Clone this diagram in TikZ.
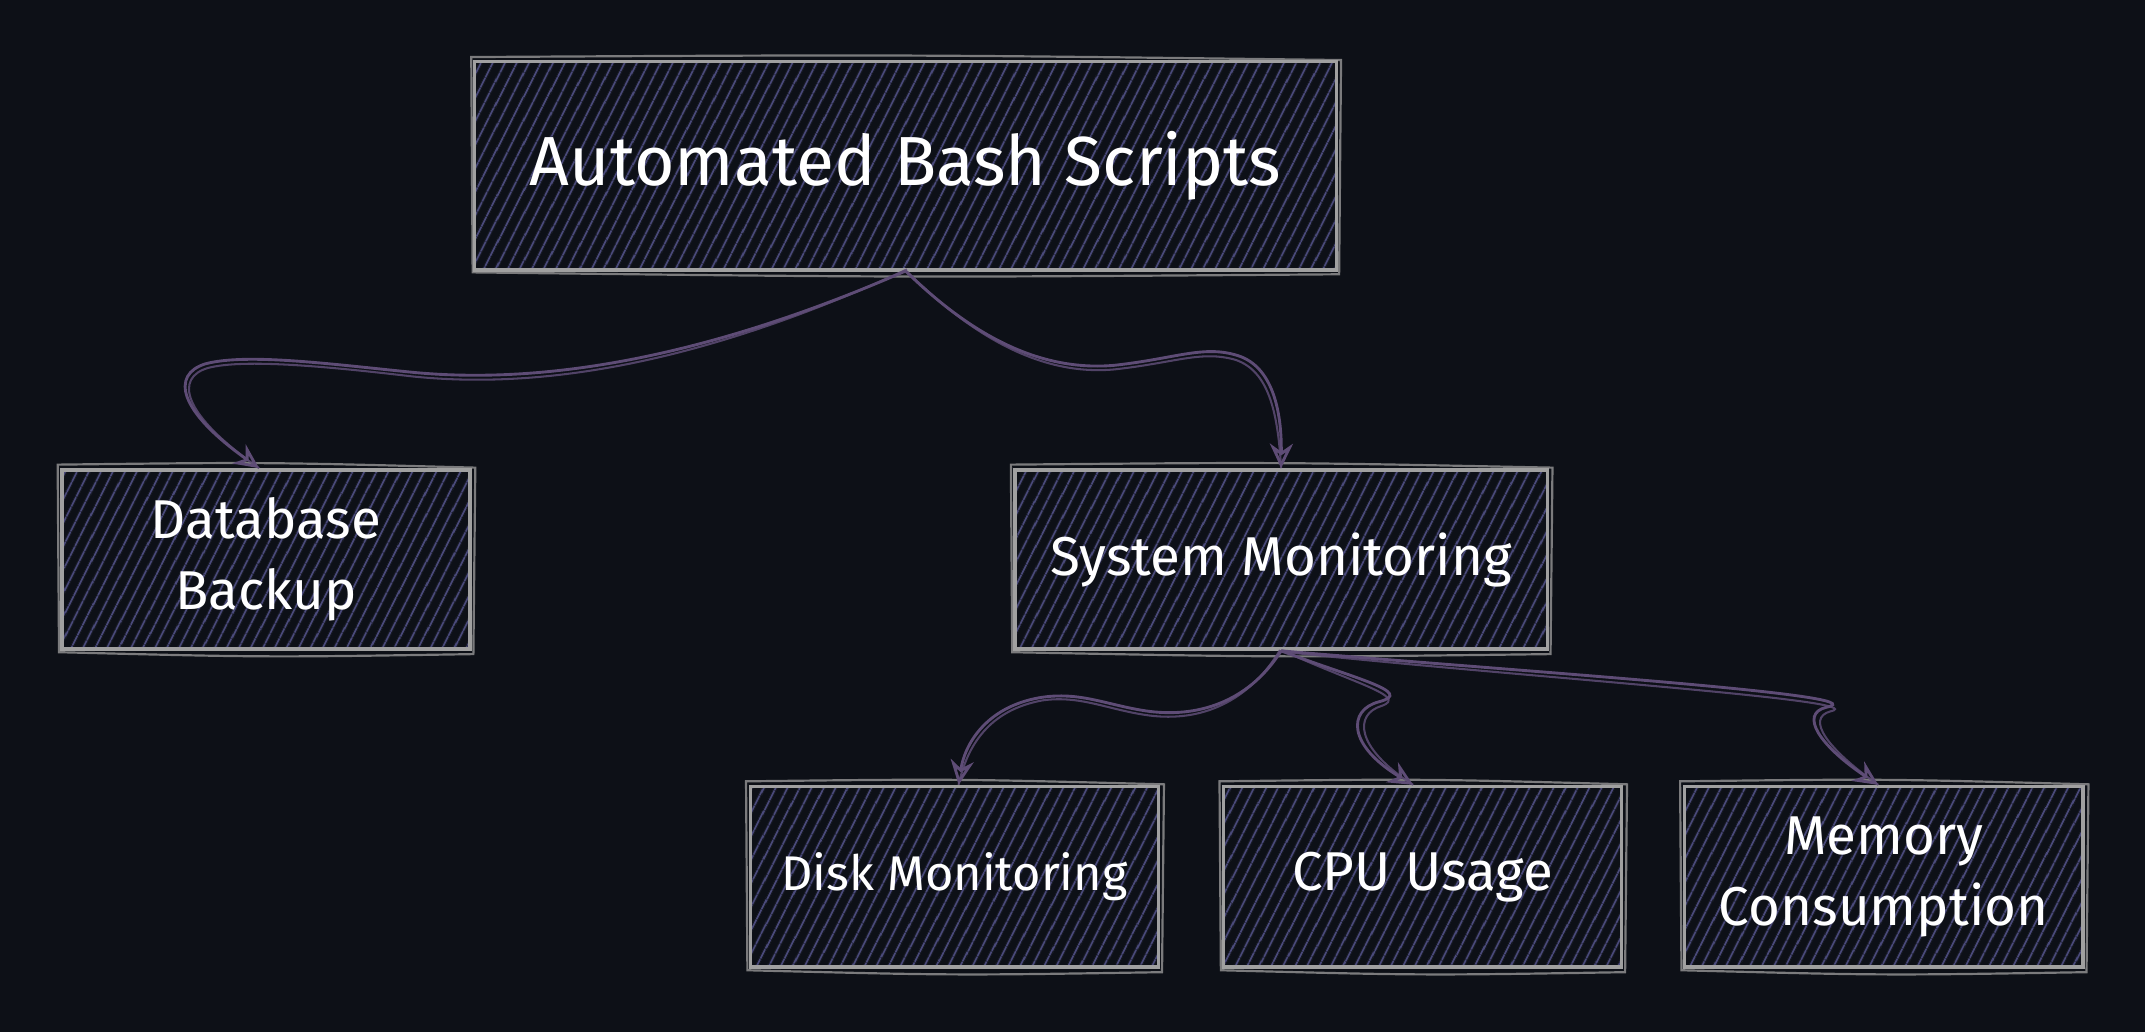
\documentclass[tikz,border=0pt]{standalone}
\usepackage{fontspec}
\setmainfont{Fira Sans}
\usetikzlibrary{arrows.meta,patterns.meta}
\definecolor{bg}{RGB}{13,16,23}
\definecolor{hatch}{RGB}{74,74,122}
\definecolor{edge}{RGB}{160,160,160}
\definecolor{arrc}{RGB}{94,76,118}
\begin{document}
\begin{tikzpicture}[x=0.5pt,y=-0.5pt,
  box/.style={draw=edge, line width=1.25pt,
    pattern={Lines[angle=63,distance=4pt,line width=0.7pt]}, pattern color=hatch,
    text=white, inner sep=0pt, align=center, minimum height=65.5pt,
    font=\fontsize{20pt}{26pt}\selectfont},
  edgetwo/.style={draw=edge, line width=0.8pt, opacity=0.75},
  link/.style={draw=arrc, line width=1.05pt,
    -{Stealth[open, length=9pt, width=8.5pt, inset=3pt]}},
  linktwo/.style={draw=arrc, line width=0.75pt, opacity=0.85}
]
\fill[bg] (0,0) rectangle (1568,754.4);
\useasboundingbox (0,0) rectangle (1568,754.4);

\node[box, minimum width=315pt, minimum height=76.2pt,
      font=\fontsize{25.4pt}{30pt}\selectfont] (top) at (662,121.2) {Automated Bash Scripts};
\node[box, minimum width=149.2pt] (db) at (194.4,409) {Database\\Backup};
\node[box, minimum width=194.5pt] (sys) at (936.5,409) {System Monitoring};
\node[box, minimum width=149.3pt, minimum height=66pt,
      font=\fontsize{17.8pt}{22pt}\selectfont] (disk) at (697.7,641) {Disk Monitoring};
\node[box, minimum width=145.5pt, minimum height=66pt] (cpu) at (1040,641) {CPU Usage};
\node[box, minimum width=145.8pt, minimum height=66pt] (mem) at (1377,641) {Memory\\Consumption};

% second, sketchy outline strokes
\foreach \n in {top,db,sys,disk,cpu,mem}{
  \draw[edgetwo] ([shift={(-0.9pt,1.3pt)}]\n.north west)
    .. controls ([shift={(0pt,2.2pt)}]\n.north) .. ([shift={(1.3pt,0.2pt)}]\n.north east)
    -- ([shift={(0.6pt,-1.2pt)}]\n.south east)
    .. controls ([shift={(0pt,-2.4pt)}]\n.south) .. ([shift={(-0.4pt,-0.5pt)}]\n.south west)
    -- cycle;
}

% connectors
\draw[link] (top.south) .. controls (520,260) and (400,282) .. (300,272)
  .. controls (240,266) and (180,258) .. (150,266)
  .. controls (125,274) and (130,300) .. ([xshift=-2.5pt]db.north);
\draw[linktwo] ([shift={(0.5pt,0.6pt)}]top.south) .. controls (522,262) and (402,286) .. (300,275)
  .. controls (240,268) and (178,262) .. (152,269)
  .. controls (128,276) and (132,302) .. ([xshift=-2.5pt]db.north);

\draw[link] (top.south) .. controls (710,245) and (760,272) .. (815,267)
  .. controls (860,262) and (880,252) .. (905,260)
  .. controls (930,268) and (937,300) .. (sys.north);
\draw[linktwo] ([shift={(0.6pt,-0.3pt)}]top.south) .. controls (712,247) and (762,275) .. (815,270)
  .. controls (860,265) and (878,256) .. (903,263)
  .. controls (927,271) and (934,300) .. (sys.north);

\draw[link] (sys.south) .. controls (915,510) and (880,525) .. (840,520)
  .. controls (810,516) and (790,505) .. (760,510)
  .. controls (720,517) and (705,545) .. ([xshift=1.5pt]disk.north);
\draw[linktwo] ([shift={(-0.4pt,0.3pt)}]sys.south) .. controls (913,513) and (878,528) .. (840,523)
  .. controls (810,519) and (790,508) .. (762,512)
  .. controls (723,519) and (707,545) .. ([xshift=1.5pt]disk.north);

\draw[link] (sys.south) .. controls (990,496) and (1035,506) .. (1008,513)
  .. controls (985,519) and (985,545) .. ([xshift=-3.5pt]cpu.north);
\draw[linktwo] ([shift={(0.4pt,0.2pt)}]sys.south) .. controls (988,499) and (1030,509) .. (1010,516)
  .. controls (990,522) and (990,546) .. ([xshift=-3.5pt]cpu.north);

\draw[link] (sys.south) .. controls (1100,490) and (1380,508) .. (1335,517)
  .. controls (1315,522) and (1330,545) .. ([xshift=-2pt]mem.north);
\draw[linktwo] ([shift={(0.4pt,-0.3pt)}]sys.south) .. controls (1100,494) and (1375,512) .. (1338,520)
  .. controls (1320,525) and (1335,547) .. ([xshift=-2pt]mem.north);
\end{tikzpicture}
\end{document}
